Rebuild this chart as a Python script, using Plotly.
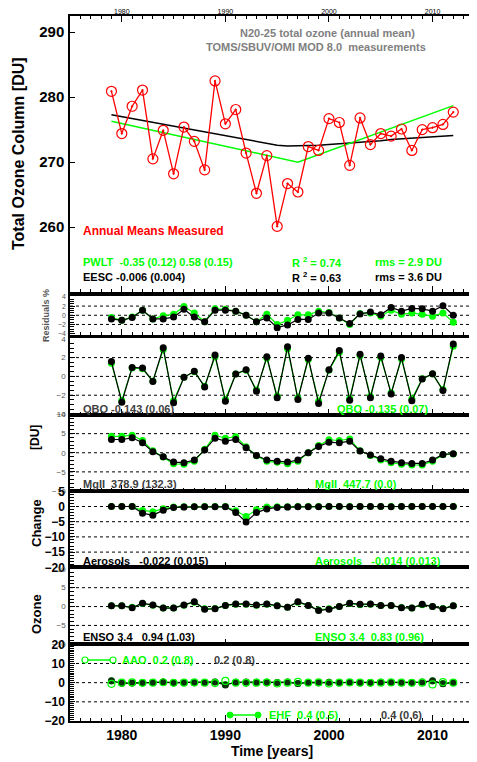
import plotly.graph_objects as go

years = list(range(1979, 2013))

ozone_measured = [280.9, 274.4, 278.6, 281.1, 270.5, 274.9, 268.2, 275.4, 273.2, 268.8,
                  282.5, 275.9, 278.1, 271.4, 265.2, 271.0, 260.1, 266.7, 265.4, 272.4,
                  271.8, 276.7, 276.1, 269.5, 276.8, 272.7, 274.4, 274.0, 275.1, 271.8,
                  275.0, 275.3, 275.8, 277.7]
eesc_fit = [277.3, 277.0, 276.7, 276.4, 276.1, 275.8, 275.5, 275.2, 274.9, 274.6,
            274.3, 274.0, 273.7, 273.4, 273.1, 272.8, 272.6, 272.5, 272.5, 272.5,
            272.6, 272.7, 272.8, 272.9, 273.1, 273.2, 273.3, 273.5, 273.6, 273.7,
            273.8, 273.9, 274.0, 274.1]
pwlt_years = [1979, 1997, 2012]
pwlt_fit = [276.3, 270.0, 278.7]

resid_eesc = [-0.8, -1.1, -0.5, 1.1, -0.8, -0.8, -0.4, 1.3, -0.4, -1.4,
              1.1, 1.1, 0.9, 0.0, -1.4, -0.6, -2.7, -2.1, -0.9, -0.9,
              0.5, 0.5, -0.6, -1.8, 0.3, 0.7, 0.1, 1.7, 0.9, 1.5,
              1.4, 0.9, 2.1, 0.0]
resid_pwlt = [-0.5, -1.1, -0.4, 1.1, -0.8, -0.1, 0.2, 1.9, 0.5, -1.4,
              1.4, 1.3, 0.9, 0.0, -1.4, 0.2, -2.0, -1.1, 0.1, 0.1,
              0.9, 0.6, -0.6, -2.0, 0.4, 0.5, -0.2, 1.1, 0.2, 0.5,
              0.2, -0.2, 0.5, -1.5]

qbo_eesc = [1.58, -2.74, 0.95, 0.88, -0.53, 3.05, -2.8, -0.1, 0.55, -1.12,
            2.28, -2.63, 0.25, 0.7, -1.58, 2.1, -2.28, 3.16, -2.45, 1.93,
            -2.87, 0.7, 2.74, -2.53, 2.35, -2.28, 2.18, -1.86, 2.0, -2.6,
            -0.28, 0.28, -1.5, 3.44]
qbo_pwlt = [1.4, -2.55, 0.9, 0.8, -0.5, 2.85, -2.6, -0.1, 0.5, -1.05,
            2.1, -2.45, 0.25, 0.65, -1.45, 1.95, -2.1, 2.95, -2.3, 1.8,
            -2.65, 0.65, 2.55, -2.35, 2.2, -2.1, 2.0, -1.75, 1.85, -2.4,
            -0.25, 0.25, -1.4, 3.2]

mgii_eesc = [3.47, 3.47, 3.9, 2.6, 0.26, -1.04, -2.45, -2.6, -1.9, 0.7,
             3.8, 3.03, 3.47, 1.3, -0.7, -1.9, -2.2, -2.45, -1.9, 0.0,
             1.65, 2.77, 2.6, 3.03, 0.43, -0.6, -1.57, -2.2, -2.6, -2.8,
             -2.8, -1.9, -0.44, -0.26]
mgii_pwlt = [4.3, 4.3, 4.6, 3.2, 0.5, -1.1, -2.9, -3.0, -2.2, 0.9,
             4.6, 3.8, 4.2, 1.6, -0.8, -2.2, -2.5, -2.9, -2.2, 0.0,
             1.9, 3.4, 3.2, 3.6, 0.5, -0.7, -1.9, -2.6, -3.0, -3.2,
             -3.2, -2.2, -0.5, -0.3]

aer_eesc = [0.0, 0.0, 0.0, -2.2, -2.9, -1.2, -0.3, -0.2, -0.1, -0.1,
            -0.1, -0.1, -2.0, -5.1, -2.0, -0.8, -0.3, -0.2, -0.1, -0.1,
            -0.1, 0.0, 0.0, -0.1, 0.0, 0.0, 0.0, -0.1, 0.0, 0.0,
            0.0, 0.0, 0.0, 0.0]
aer_pwlt = [0.0, 0.0, 0.0, -1.3, -1.7, -0.7, -0.2, -0.1, -0.1, 0.0,
            0.0, 0.0, -1.4, -3.3, -1.1, -0.2, -0.1, -0.1, 0.0, 0.0,
            0.0, 0.0, 0.0, 0.0, 0.0, 0.0, 0.0, 0.0, 0.0, 0.0,
            0.0, 0.0, 0.0, 0.0]

enso_eesc = [0.2, 0.2, -0.3, 0.9, 0.4, -0.4, -0.4, 0.4, 1.3, -0.7,
             -0.6, 0.3, 0.7, 0.7, 0.4, 0.7, 0.2, -0.2, 1.3, 0.3,
             -1.05, -0.7, 0.0, 0.9, 0.6, 0.7, 0.3, 0.3, -0.3, -0.4,
             0.6, 0.0, -0.6, 0.2]
enso_pwlt = [0.2, 0.2, -0.2, 0.8, 0.35, -0.35, -0.35, 0.35, 1.15, -0.6,
             -0.5, 0.25, 0.6, 0.6, 0.35, 0.6, 0.2, -0.2, 1.15, 0.25,
             -0.9, -0.6, 0.0, 0.8, 0.5, 0.6, 0.25, 0.25, -0.25, -0.35,
             0.5, 0.0, -0.5, 0.2]

ehf_eesc = [1.0, -0.3, -0.2, 0.0, 0.1, 0.3, 0.0, 0.1, 0.0, 0.1,
            0.4, -1.2, 0.2, 0.3, 0.2, 0.0, 0.1, 0.3, -0.5, 0.1,
            0.0, 0.2, 0.0, 0.1, 0.0, 0.1, 0.2, 0.1, 0.0, 0.1,
            0.3, 1.0, -0.6, 0.1]
ehf_pwlt = [0.8, -0.2, -0.2, 0.0, 0.1, 0.2, 0.0, 0.1, 0.0, 0.1,
            0.3, -1.0, 0.2, 0.2, 0.2, 0.0, 0.1, 0.2, -0.4, 0.1,
            0.0, 0.2, 0.0, 0.1, 0.0, 0.1, 0.2, 0.1, 0.0, 0.1,
            0.2, 0.8, -0.5, 0.1]
aao_pwlt = [-0.6, 0.0, 0.1, -0.1, 0.0, 0.2, -0.1, 0.0, 0.1, 0.0,
            -0.2, 0.9, 0.0, -0.1, 0.0, 0.1, -0.4, 0.0, 0.4, 0.0,
            0.1, -0.4, 0.0, 0.1, 0.0, -0.1, 0.0, 0.1, 0.0, -0.1,
            0.0, -0.9, 0.3, 0.0]

RED = "#FF0000"
GREEN = "#00FF00"
BLACK = "#000000"
GRAY = "#808080"
DGRAY = "#404040"
FONT = "Liberation Sans"

fig = go.Figure()

# ---------- main panel ----------
fig.add_trace(go.Scatter(x=years, y=eesc_fit, mode="lines", line=dict(color=BLACK, width=1.5),
                         xaxis="x", yaxis="y", showlegend=False))
fig.add_trace(go.Scatter(x=pwlt_years, y=pwlt_fit, mode="lines", line=dict(color=GREEN, width=1.5),
                         xaxis="x", yaxis="y", showlegend=False))
fig.add_trace(go.Scatter(x=years, y=ozone_measured, mode="lines+markers",
                         line=dict(color=RED, width=1.3),
                         marker=dict(symbol="circle-open-dot", size=10, color=RED, line=dict(width=1.2, color=RED)),
                         xaxis="x", yaxis="y", showlegend=False))
# invisible trace for top axis
fig.add_trace(go.Scatter(x=[1975, 2014], y=[250, 250], mode="markers", marker=dict(opacity=0),
                         xaxis="x8", yaxis="y", showlegend=False, hoverinfo="skip"))

def pair(idx, green_vals, black_vals):
    fig.add_trace(go.Scatter(x=years, y=green_vals, mode="lines+markers",
                             line=dict(color=GREEN, width=1.2),
                             marker=dict(size=7, color=GREEN),
                             xaxis=f"x{idx}", yaxis=f"y{idx}", showlegend=False))
    fig.add_trace(go.Scatter(x=years, y=black_vals, mode="lines+markers",
                             line=dict(color=BLACK, width=1.2),
                             marker=dict(size=7, color=BLACK),
                             xaxis=f"x{idx}", yaxis=f"y{idx}", showlegend=False))

pair(2, resid_pwlt, resid_eesc)
pair(3, qbo_pwlt, qbo_eesc)
pair(4, mgii_pwlt, mgii_eesc)
pair(5, aer_pwlt, aer_eesc)
pair(6, enso_pwlt, enso_eesc)

# EHF / AAO panel
fig.add_trace(go.Scatter(x=years, y=ehf_pwlt, mode="lines+markers",
                         line=dict(color=GREEN, width=1.2), marker=dict(size=7, color=GREEN),
                         xaxis="x7", yaxis="y7", showlegend=False))
fig.add_trace(go.Scatter(x=years, y=ehf_eesc, mode="lines+markers",
                         line=dict(color=BLACK, width=1.2), marker=dict(size=7, color="#0a300a"),
                         xaxis="x7", yaxis="y7", showlegend=False))
fig.add_trace(go.Scatter(x=years, y=aao_pwlt, mode="markers",
                         marker=dict(symbol="circle-open", size=7, color=GREEN, line=dict(width=1.2)),
                         xaxis="x7", yaxis="y7", showlegend=False))

H0, H1 = 721.0, 16.0
def yf(py):
    return (H0 - py) / (H0 - H1)

domains = {
    1: [yf(292), 1.0],
    2: [yf(335), yf(296)],
    3: [yf(414.5), yf(338.3)],
    4: [yf(491), yf(414.5)],
    5: [yf(567.3), yf(491)],
    6: [yf(644.3), yf(567.3)],
    7: [0.0, yf(644.3)],
}

small_font = dict(family=FONT, size=8, color="#555555")
big_font = dict(family=FONT, size=12, color=BLACK, weight="bold")

yspec = {
    1: dict(range=[250, 292.5], tickvals=[260, 270, 280, 290], font=dict(family=FONT, size=15, color=BLACK, weight="bold"), minor=None, mirror="ticks"),
    2: dict(range=[-4.3, 4.2], tickvals=[-4, -2, 0, 2, 4], font=dict(family=FONT, size=7, color="#555555"), minor=0.5, mirror=True),
    3: dict(range=[-4.05, 4.05], tickvals=[-4, -2, 0, 2, 4], font=small_font, minor=0.5, mirror=True),
    4: dict(range=[-10, 10], tickvals=[-10, -5, 0, 5, 10], font=small_font, minor=1, mirror=True),
    5: dict(range=[-20, 5.1], tickvals=[-20, -15, -10, -5, 0, 5], font=big_font, minor=1, mirror=True),
    6: dict(range=[-10, 10.4], tickvals=[-10, -5, 0, 5, 10], font=small_font, minor=1, mirror=True),
    7: dict(range=[-20, 20], tickvals=[-20, -10, 0, 10, 20], font=big_font, minor=1, mirror=True),
}

# the page adds an 8 px body margin, so the figure itself is 8 px smaller on the left/top
layout = dict(
    width=469, height=754,
    margin=dict(l=62, r=3, t=8, b=41, autoexpand=False),
    paper_bgcolor="white", plot_bgcolor="white",
    font=dict(family=FONT, color=BLACK),
    showlegend=False,
)

for i in range(1, 8):
    xa = dict(
        domain=[0, 1], anchor=f"y{i}" if i > 1 else "y",
        range=[1975, 2014], tickvals=[1980, 1990, 2000, 2010],
        ticks="inside", ticklen=6, tickwidth=1, tickcolor=BLACK,
        minor=dict(dtick=1, tick0=1975, ticks="inside", ticklen=3, tickcolor=BLACK),
        showline=True, linecolor=BLACK, linewidth=1.5, mirror="allticks" if i == 1 else True,
        showgrid=False, zeroline=False, automargin=False,
        showticklabels=(i == 7),
        tickfont=dict(family=FONT, size=14, color=BLACK, weight="bold"),
    )
    if i > 1:
        xa["matches"] = "x"
    if i == 7:
        xa["title"] = dict(text="<b>Time [years]</b>", font=dict(family=FONT, size=14, color=BLACK), standoff=0)
    s = yspec[i]
    ya = dict(
        domain=domains[i], anchor=f"x{i}" if i > 1 else "x",
        range=s["range"], tickvals=s["tickvals"],
        ticks="inside", ticklen=5, tickcolor=BLACK,
        showline=True, linecolor=BLACK, linewidth=1.5, mirror=s["mirror"],
        showgrid=False, zeroline=False, tickfont=s["font"], ticklabelstandoff=1,
        automargin=False,
    )
    if s["minor"]:
        ya["minor"] = dict(dtick=s["minor"], ticks="inside", ticklen=4, tickcolor=BLACK)
    kx = "xaxis" if i == 1 else f"xaxis{i}"
    ky = "yaxis" if i == 1 else f"yaxis{i}"
    layout[kx] = xa
    layout[ky] = ya

layout["xaxis8"] = dict(
    overlaying="x", side="top", anchor="y", matches="x",
    range=[1975, 2014], tickvals=[1980, 1990, 2000, 2010], ticks="",
    showline=False, showgrid=False, zeroline=False, automargin=False,
    tickfont=dict(family=FONT, size=7, color=BLACK),
)

fig.update_layout(**layout)

# dotted reference lines
dotted = {2: [-2, 0, 2], 3: [-2, 0, 2], 4: [-5, 0, 5], 5: [-15, -10, -5, 0], 6: [-5, 0, 5], 7: [-10, 0, 10]}
for i, vals in dotted.items():
    for v in vals:
        fig.add_shape(type="line", xref=f"x{i} domain", yref=f"y{i}", x0=0, x1=1, y0=v, y1=v,
                      line=dict(color=BLACK, width=1, dash="dot"), layer="below")

def xp(px):
    return (px - 70) / 404.0

def ann(text, px, py, color, size=11, xanchor="left", angle=0, bold=True):
    fig.add_annotation(text=text, x=xp(px), y=yf(py), xref="paper", yref="paper",
                       xanchor=xanchor, yanchor="middle", showarrow=False, textangle=angle,
                       font=dict(family=FONT, size=size, color=color, weight="bold" if bold else "normal"))

ann("N20-25 total ozone (annual mean)", 327, 33, GRAY, 11, "center")
ann("TOMS/SBUV/OMI MOD 8.0  measurements", 316, 47, GRAY, 11, "center")
ann("Annual Means Measured", 81, 231, RED, 12)
ann("PWLT  -0.35 (0.12) 0.58 (0.15)", 81, 262, GREEN, 11)
ann("R <sup>2</sup> = 0.74", 290, 262, GREEN, 11)
ann("rms = 2.9 DU", 373, 262, GREEN, 11)
ann("EESC -0.006 (0.004)", 81, 277, BLACK, 11)
ann("R <sup>2</sup> = 0.63", 290, 277, BLACK, 11)
ann("rms = 3.6 DU", 373, 277, BLACK, 11)
ann("QBO -0.143 (0.06)", 81, 409, DGRAY, 11)
ann("QBO -0.135 (0.07)", 335, 409, GREEN, 11)
ann("MgII  378.9 (132.3)", 81, 484, DGRAY, 11)
ann("MgII  447.7 (0.0)", 313, 484, GREEN, 11)
ann("Aerosols   -0.022 (0.015)", 81, 561, BLACK, 11)
ann("Aerosols   -0.014 (0.013)", 313, 561, GREEN, 11)
ann("ENSO 3.4   0.94 (1.03)", 81, 637, BLACK, 11)
ann("ENSO 3.4  0.83 (0.96)", 313, 637, GREEN, 11)
ann("AAO  0.2 (0.8)", 120, 660, GREEN, 11)
ann("0.2 (0.8)", 212, 660, DGRAY, 11)
ann("EHF  0.4 (0.5)", 267, 715, GREEN, 11)
ann("0.4 (0.6)", 379, 715, DGRAY, 11)

ann("Total Ozone Column [DU]", 19, 154, BLACK, 16, "center", -90)
ann("Residuals %", 46, 316, "#555555", 9, "center", -90)
ann("[DU]", 35, 438, BLACK, 12, "center", -90)
ann("Change", 36, 523, BLACK, 13, "center", -90)
ann("Ozone", 36, 614, BLACK, 13, "center", -90)

# legend glyphs for AAO (open circles) and EHF (filled)
fig.add_shape(type="line", xref="paper", yref="paper", x0=xp(85), x1=xp(113), y0=yf(660), y1=yf(660),
              line=dict(color=GREEN, width=1.5))
for cx in (85, 113):
    fig.add_shape(type="circle", xref="paper", yref="paper", x0=xp(cx - 3), x1=xp(cx + 3),
                  y0=yf(663), y1=yf(657), line=dict(color=GREEN, width=1.2), fillcolor="white")
fig.add_shape(type="line", xref="paper", yref="paper", x0=xp(230), x1=xp(258), y0=yf(715), y1=yf(715),
              line=dict(color=GREEN, width=1.5))
for cx in (230, 258):
    fig.add_shape(type="circle", xref="paper", yref="paper", x0=xp(cx - 3), x1=xp(cx + 3),
                  y0=yf(718), y1=yf(712), line=dict(color=GREEN, width=1), fillcolor=GREEN)

fig.write_html("out.html")
